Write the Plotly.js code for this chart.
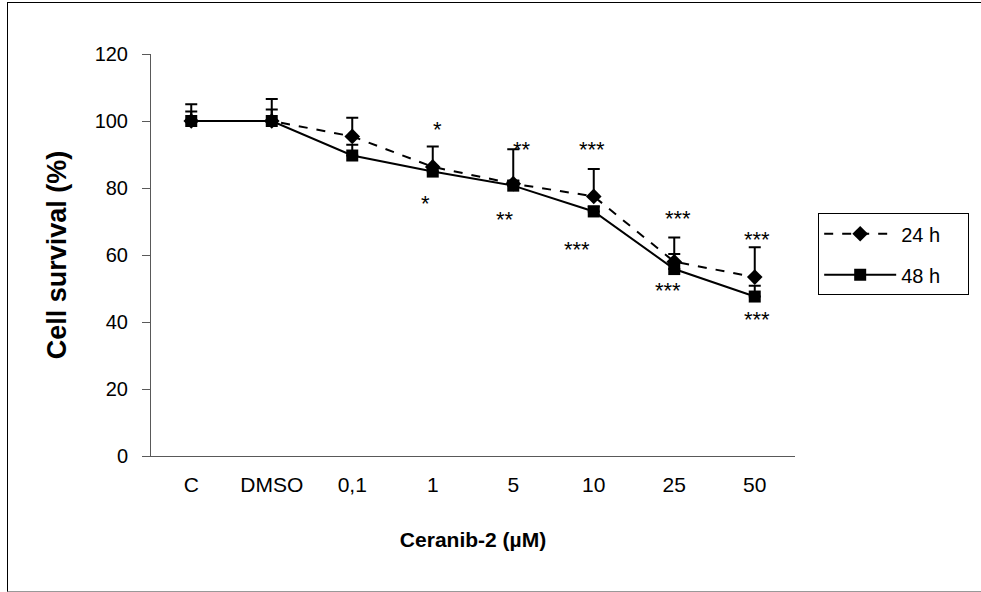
<!DOCTYPE html>
<html>
<head>
<meta charset="utf-8">
<script src="https://cdn.plot.ly/plotly-3.0.1.min.js"></script>
<style>
  html, body { margin: 0; padding: 0; background: #fff; }
  #chart { position: absolute; left: 0; top: 0; width: 981px; height: 592px; }
  #frame { position: absolute; left: 7px; top: 2px; width: 974px; height: 588px;
           border-left: 1px solid #000; border-top: 1px solid #000; border-bottom: 1px solid #999;
           pointer-events: none; }
</style>
</head>
<body>
<div id="chart"></div>
<div id="frame"></div>
<script>
// ---- data ----
const categories = ["C", "DMSO", "0,1", "1", "5", "10", "25", "50"];
const survival24 = [100, 100, 95.4, 86.3, 81.3, 77.5, 58.0, 53.4];
const error24    = [5.0, 6.6, 5.6, 6.1, 10.3, 8.2, 7.2, 8.9];
const survival48 = [100, 100, 89.7, 84.9, 80.7, 73.0, 55.8, 47.6];
const error48    = [2.8, 3.4, 3.2, 1.5, 1.5, 1.5, 4.5, 3.2];
const sig24 = ["", "", "", "*", "**", "***", "***", "***"];
const sig48 = ["", "", "", "*", "**", "***", "***", "***"];

// ---- label placement (style only) ----
const sig24Shift = [[0,0],[0,0],[0,0],[5,20],[9,3],[-2,22],[4,22],[2,11]];
const sig48Shift = [[0,0],[0,0],[0,0],[-7,-29],[-8,-31],[-17,-35],[-6,-18],[2,-20]];

const FONT = "Liberation Sans, Arial, Helvetica, sans-serif";
const zeros = categories.map(() => 0);
const PAD = "\u00a0\u00a0\u00a0\u00a0";

const traces = [
  {
    name: "24 h" + PAD, legendgroup: "g24", type: "scatter", mode: "lines+markers",
    x: categories, y: survival24,
    line: { color: "#000", width: 2, dash: "dash" },
    marker: { symbol: "diamond", size: 12, color: "#000" },
    error_y: { type: "data", symmetric: false, array: error24, arrayminus: zeros,
               color: "#000", thickness: 2, width: 6 }
  },
  {
    name: "48 h" + PAD, legendgroup: "g48", type: "scatter", mode: "lines+markers",
    x: categories, y: survival48,
    line: { color: "#000", width: 2 },
    marker: { symbol: "square", size: 12, color: "#000" },
    error_y: { type: "data", symmetric: false, array: error48, arrayminus: zeros,
               color: "#000", thickness: 2, width: 6 }
  }
];

const annotations = [];
const ASTER_DROP = 3; // asterisk glyph sits high in its box
categories.forEach((c, i) => {
  if (sig24[i]) annotations.push({
    x: i, y: survival24[i] + error24[i], xref: "x", yref: "y", text: sig24[i],
    showarrow: false, xanchor: "center", yanchor: "middle",
    xshift: sig24Shift[i][0], yshift: sig24Shift[i][1] - ASTER_DROP,
    font: { family: FONT, size: 22, color: "#000" }
  });
  if (sig48[i]) annotations.push({
    x: i, y: survival48[i], xref: "x", yref: "y", text: sig48[i],
    showarrow: false, xanchor: "center", yanchor: "middle",
    xshift: sig48Shift[i][0], yshift: sig48Shift[i][1] - ASTER_DROP,
    font: { family: FONT, size: 22, color: "#000" }
  });
});

const layout = {
  width: 981, height: 592,
  margin: { l: 151, r: 186, t: 54, b: 136, pad: 0 },
  paper_bgcolor: "#fff", plot_bgcolor: "#fff",
  font: { family: FONT, size: 20, color: "#000" },
  showlegend: true,
  legend: {
    x: 1.036, y: 0.604, xanchor: "left", yanchor: "top",
    bordercolor: "#000", borderwidth: 1, bgcolor: "#fff",
    font: { family: FONT, size: 20, color: "#000" },
    tracegroupgap: 12, itemwidth: 72
  },
  xaxis: {
    type: "category", range: [-0.5, 7.5],
    showgrid: false, zeroline: false,
    showline: true, linecolor: "#595959", linewidth: 1,
    ticks: "", ticklabelstandoff: 10,
    tickfont: { family: FONT, size: 21, color: "#000" },
    title: { text: "<b>Ceranib-2 (µM)</b>", font: { family: FONT, size: 21, color: "#000" }, standoff: 37 }
  },
  yaxis: {
    range: [0, 120], dtick: 20, tick0: 0,
    showgrid: false, zeroline: false,
    showline: true, linecolor: "#595959", linewidth: 1,
    ticks: "outside", ticklen: 8, tickcolor: "#595959", tickwidth: 1,
    ticklabelstandoff: 10,
    tickfont: { family: FONT, size: 20, color: "#000" },
    title: { text: "<b>Cell survival (%)</b>", font: { family: FONT, size: 27, color: "#000" }, standoff: 20 }
  },
  annotations: annotations
};

Plotly.newPlot("chart", traces, layout, { staticPlot: true, displayModeBar: false });
</script>
</body>
</html>
